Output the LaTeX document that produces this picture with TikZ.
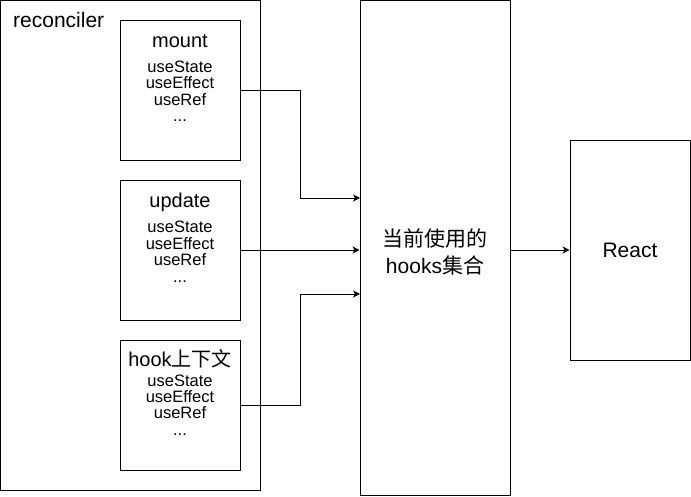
\documentclass[tikz,border=0pt]{standalone}
\usepackage{fontspec}
\setmainfont{Liberation Sans}
\newfontfamily\cjk{Noto Sans CJK SC}
\usetikzlibrary{arrows.meta}
\tikzset{
  box/.style={draw=black, line width=1pt, fill=white, inner sep=0pt},
  ttl/.style={anchor=base, inner sep=0pt, font=\fontsize{20}{24}\selectfont},
  item/.style={anchor=base, inner sep=0pt, font=\fontsize{16.5}{18}\selectfont},
  big/.style={anchor=base, inner sep=0pt, font=\fontsize{21}{25}\selectfont},
  conn/.style={draw=black, line width=1pt, -{Stealth[length=7pt,width=7pt,inset=2pt]}}
}
\begin{document}
\begin{tikzpicture}[x=1pt,y=-1pt]
\useasboundingbox (0,0) rectangle (691,496);
% outer containers
\node[box, minimum width=259.5pt, minimum height=489.5pt] (rec) at (130.25,245.25) {};
\node[big, anchor=base west] (reclabel) at (13,27.3) {reconciler};
\node[box, minimum width=150pt, minimum height=495pt] (hooks) at (435,248) {};
\node[box, minimum width=120pt, minimum height=220pt] (react) at (630,250) {};
% inner boxes
\node[box, minimum width=120pt, minimum height=140pt] (mount) at (180,90) {};
\node[box, minimum width=120pt, minimum height=140pt] (update) at (180,250) {};
\node[box, minimum width=120pt, minimum height=130pt] (hook) at (180,405) {};
% mount text
\node[ttl] (mt) at (180,47.5) {mount};
\node[item] (m1) at (180,72) {useState};
\node[item] (m2) at (180,88.5) {useEffect};
\node[item] (m3) at (180,105) {useRef};
\node[item] (m4) at (180,121.5) {...};
% update text
\node[ttl] (ut) at (180,207) {update};
\node[item] (u1) at (180,232.5) {useState};
\node[item] (u2) at (180,249) {useEffect};
\node[item] (u3) at (180,265.5) {useRef};
\node[item] (u4) at (180,282) {...};
% hook text
\node[ttl] (ht) at (180,366) {hook{\cjk 上下文}};
\node[item] (h1) at (180,386.5) {useState};
\node[item] (h2) at (180,402.5) {useEffect};
\node[item] (h3) at (180,418.5) {useRef};
\node[item] (h4) at (180,435) {...};
% hooks text
\node[big] (hk1) at (435,246) {\cjk 当前使用的};
\node[big] (hk2) at (435,273) {hooks{\cjk 集合}};
% react text
\node[big] (rt) at (630,257) {React};
% connector end points
\coordinate (in1) at (360,198);
\coordinate (in3) at (360,294);
% connectors
\draw[conn] (mount.east) -- (300,90) |- (in1);
\draw[conn] (update.east) -- (update.east -| hooks.west);
\draw[conn] (hook.east) -- (300,405) |- (in3);
\draw[conn] (react.west -| hooks.east) -- (react.west);
\end{tikzpicture}
\end{document}
